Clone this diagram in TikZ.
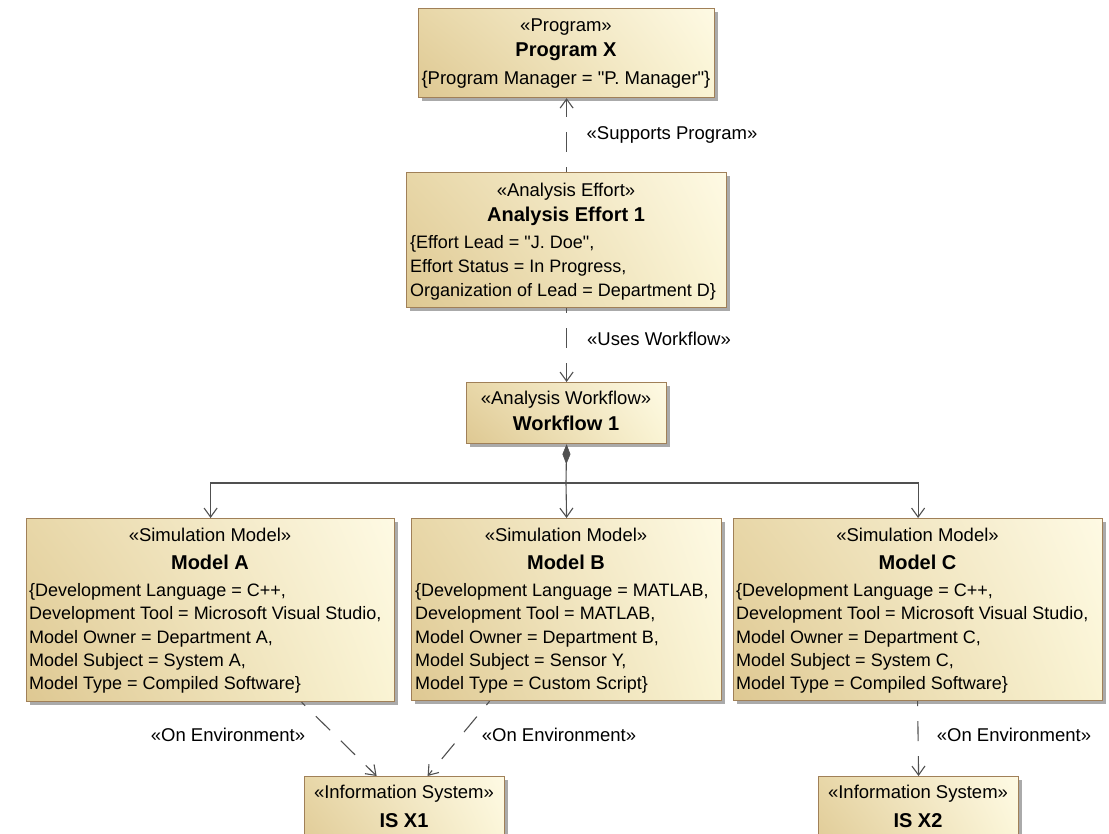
\documentclass[tikz,border=0pt]{standalone}
\usepackage{fontspec}
\setmainfont{Liberation Sans}[Ligatures=TeXOff]
\usetikzlibrary{arrows.meta,shadows,shadings}

\definecolor{boxedge}{RGB}{160,128,88}
\definecolor{boxll}{RGB}{222,200,146}
\definecolor{boxul}{RGB}{232,215,168}
\definecolor{boxur}{RGB}{254,250,228}
\definecolor{boxlr}{RGB}{250,244,212}
\definecolor{boxshadow}{RGB}{170,170,170}
\definecolor{linkcol}{RGB}{80,80,80}

\begin{document}
\begin{tikzpicture}[x=1pt,y=-1pt,
  font=\fontsize{18pt}{23pt}\selectfont,
  umlbox/.style={draw=boxedge, line width=1.2pt,
    lower left=boxll, upper left=boxul, upper right=boxur, lower right=boxlr,
    anchor=north west, inner sep=0pt,
    drop shadow={shadow xshift=3pt, shadow yshift=-3pt, fill=boxshadow, opacity=1}},
  stereo/.style={anchor=base, inner sep=0pt, font=\fontsize{18.5pt}{23pt}\selectfont},
  elname/.style={anchor=base, inner sep=0pt, font=\fontsize{20pt}{24pt}\selectfont\bfseries},
  prop/.style={anchor=base west, inner sep=0pt},
  lbl/.style={anchor=base, inner sep=0pt, font=\fontsize{18.5pt}{23pt}\selectfont},
  tip/.tip={Straight Barb[length=9pt,width=13pt,line width=1.1pt]},
  dep/.style={draw=linkcol, line width=1.1pt, -tip,
    dash pattern=on 20pt off 15pt, dash phase=15pt},
  assoc/.style={draw=linkcol, line width=1.1pt, -tip},
  compo/.style={draw=linkcol, line width=1.1pt,
    {Diamond[length=20pt,width=8pt,fill=linkcol,line width=0.6pt]}-}
]
\clip (0,0) rectangle (1109,834);

% ---- Program X
\node[umlbox, minimum width=296pt, minimum height=89pt] (prog) at (418,8) {};
\node[stereo] (prog-s) at (566,31.5) {«Program»};
\node[elname] (prog-n) at (566,57) {Program X};
\node[stereo] (prog-p) at (566,84.5) {\{Program Manager = "P. Manager"\}};

% ---- Analysis Effort 1
\node[umlbox, minimum width=320pt, minimum height=135pt] (eff) at (406,172) {};
\node[stereo] (eff-s) at (566,196.5) {«Analysis Effort»};
\node[elname] (eff-n) at (566,222) {Analysis Effort 1};
\foreach \t [count=\i] in {{\{Effort Lead = "J. Doe",},{Effort Status = In Progress,},{Organization of Lead = Department D\}}}
  \node[prop] (eff-p\i) at (410,{248.5+24*(\i-1)}) {\t};

% ---- Workflow 1
\node[umlbox, minimum width=200pt, minimum height=61pt] (wf) at (466,382) {};
\node[stereo] (wf-s) at (566,404.5) {«Analysis Workflow»};
\node[elname] (wf-n) at (566,431) {Workflow 1};

% ---- Model A
\node[umlbox, minimum width=368pt, minimum height=183pt] (A) at (26,518) {};
\node[stereo] (A-s) at (210,541.5) {«Simulation Model»};
\node[elname] (A-n) at (210,569) {Model A};
\foreach \t [count=\i] in {{\{Development Language = C++,},{Development Tool = Microsoft Visual Studio,},{Model Owner = Department A,},{Model Subject = System A,},{Model Type = Compiled Software\}}}
  \node[prop] (A-p\i) at (29,{596.5+23.3*(\i-1)}) {\t};

% ---- Model B
\node[umlbox, minimum width=310pt, minimum height=182pt] (B) at (411,518) {};
\node[stereo] (B-s) at (566,541.5) {«Simulation Model»};
\node[elname] (B-n) at (566,569) {Model B};
\foreach \t [count=\i] in {{\{Development Language = MATLAB,},{Development Tool = MATLAB,},{Model Owner = Department B,},{Model Subject = Sensor Y,},{Model Type = Custom Script\}}}
  \node[prop] (B-p\i) at (415,{596.5+23.3*(\i-1)}) {\t};

% ---- Model C
\node[umlbox, minimum width=369pt, minimum height=182pt] (C) at (733,518) {};
\node[stereo] (C-s) at (917.5,541.5) {«Simulation Model»};
\node[elname] (C-n) at (917.5,569) {Model C};
\foreach \t [count=\i] in {{\{Development Language = C++,},{Development Tool = Microsoft Visual Studio,},{Model Owner = Department C,},{Model Subject = System C,},{Model Type = Compiled Software\}}}
  \node[prop] (C-p\i) at (736,{596.5+23.3*(\i-1)}) {\t};

% ---- Information systems (run past the lower edge)
\node[umlbox, minimum width=200pt, minimum height=90pt] (is1) at (304,776) {};
\node[stereo] (is1-s) at (404,798.5) {«Information System»};
\node[elname] (is1-n) at (404,827) {IS X1};
\node[umlbox, minimum width=200pt, minimum height=90pt] (is2) at (818,776) {};
\node[stereo] (is2-s) at (918,798.5) {«Information System»};
\node[elname] (is2-n) at (918,827) {IS X2};

% ---- Dependencies
\draw[dep] (eff.north) -- (prog.south);
\node[lbl] (l-sp) at (672,139.5) {«Supports Program»};
\draw[dep] (eff.south) -- (wf.north);
\node[lbl] (l-uw) at (659,345.5) {«Uses Workflow»};

% ---- Composition from Workflow 1 to the models
\coordinate (jn) at (566,483);
\draw[compo] (wf.south) -- (jn);
\draw[assoc] (jn) -| (A.north);
\draw[assoc] (jn) -- (B.north);
\draw[assoc] (jn) -| (C.north);

% ---- Environments
\draw[dep] ([xshift=91pt]A.south) -- ([xshift=-28pt]is1.north);
\draw[dep] ([xshift=-77pt]B.south) -- ([xshift=23pt]is1.north);
\draw[dep] ([xshift=-0.5pt]C.south) -- (is2.north);
\node[lbl] (l-e1) at (228,741.5) {«On Environment»};
\node[lbl] (l-e2) at (559,741.5) {«On Environment»};
\node[lbl] (l-e3) at (1014,741.5) {«On Environment»};
\end{tikzpicture}
\end{document}
